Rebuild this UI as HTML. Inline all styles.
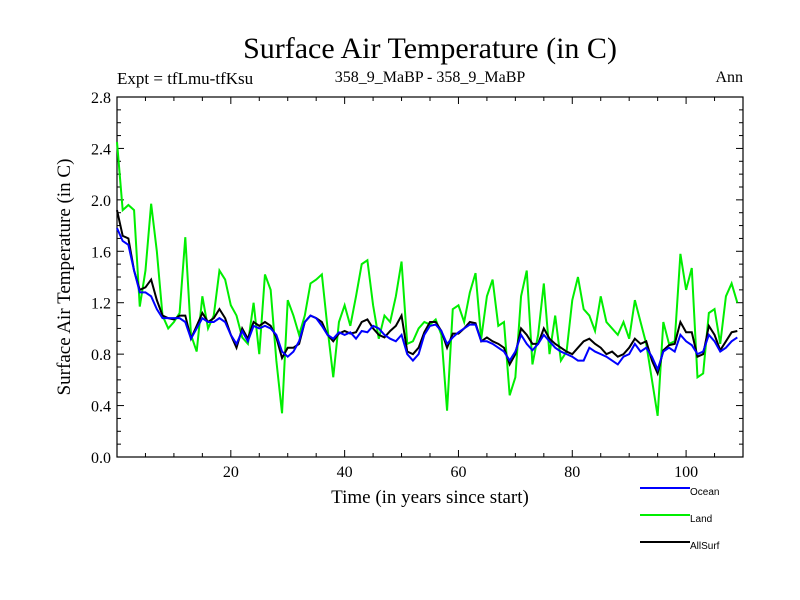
<!DOCTYPE html>
<html><head><meta charset="utf-8"><style>
body{margin:0;background:#fff;}
svg{display:block;font-family:"Liberation Serif",serif;}
</style></head><body>
<svg id="c" width="800" height="600">
<text x="430" y="58" font-size="30" text-anchor="middle">Surface Air Temperature (in C)</text>
<text x="117" y="84" font-size="17">Expt = tfLmu-tfKsu</text>
<text x="430" y="82" font-size="16" text-anchor="middle">358_9_MaBP - 358_9_MaBP</text>
<text x="743" y="82" font-size="16" text-anchor="end">Ann</text>
<text x="430" y="503" font-size="19" text-anchor="middle">Time (in years since start)</text>
<text transform="translate(70,277) rotate(-90)" font-size="19" text-anchor="middle">Surface Air Temperature (in C)</text>
<g id="ax"></g><g id="series"></g><g id="legend"></g>
</svg>
<script>
const yTicks=[0.0,0.4,0.8,1.2,1.6,2.0,2.4,2.8];
const xTicks=[20,40,60,80,100];
const seriesNames=["Ocean","Land","AllSurf"];
const land=[2.45,1.92,1.96,1.92,1.17,1.45,1.97,1.60,1.10,1.00,1.05,1.12,1.71,0.95,0.82,1.25,1.00,1.10,1.45,1.38,1.18,1.10,0.93,0.88,1.20,0.80,1.42,1.30,0.75,0.34,1.22,1.10,0.95,1.10,1.35,1.38,1.42,1.00,0.62,1.05,1.18,1.02,1.25,1.50,1.53,1.18,0.92,1.10,1.05,1.25,1.52,0.88,0.90,1.00,1.05,1.03,1.07,0.95,0.36,1.15,1.18,1.05,1.28,1.43,0.92,1.25,1.38,1.02,1.05,0.48,0.62,1.25,1.45,0.72,0.95,1.35,0.80,1.10,0.75,0.82,1.22,1.40,1.15,1.10,0.98,1.25,1.05,1.00,0.95,1.05,0.92,1.22,1.05,0.88,0.60,0.32,1.05,0.88,0.90,1.58,1.30,1.47,0.62,0.65,1.12,1.15,0.88,1.25,1.35,1.20];
const ocean=[1.78,1.68,1.65,1.45,1.28,1.28,1.25,1.15,1.08,1.08,1.08,1.08,1.05,0.92,1.00,1.08,1.05,1.05,1.08,1.05,0.95,0.88,0.98,0.90,1.02,1.00,1.02,1.00,0.95,0.82,0.78,0.82,0.90,1.05,1.10,1.08,1.02,0.95,0.92,0.97,0.95,0.97,0.92,0.98,0.97,1.02,1.00,0.95,0.92,0.90,0.95,0.80,0.75,0.80,0.95,1.02,1.03,0.98,0.88,0.93,0.97,1.00,1.03,1.03,0.90,0.90,0.88,0.85,0.82,0.75,0.82,0.95,0.88,0.83,0.88,0.95,0.90,0.85,0.82,0.80,0.78,0.75,0.75,0.85,0.82,0.80,0.78,0.75,0.72,0.78,0.80,0.88,0.82,0.85,0.78,0.68,0.82,0.85,0.82,0.95,0.90,0.87,0.80,0.82,0.95,0.90,0.82,0.85,0.90,0.93];
const allsurf=[1.92,1.72,1.70,1.45,1.30,1.32,1.38,1.22,1.10,1.08,1.07,1.10,1.10,0.92,1.02,1.12,1.05,1.08,1.15,1.08,0.95,0.85,1.00,0.92,1.05,1.02,1.05,1.02,0.93,0.77,0.85,0.85,0.88,1.05,1.10,1.08,1.05,0.95,0.90,0.96,0.98,0.96,0.97,1.05,1.07,1.00,0.95,0.93,0.98,1.02,1.10,0.82,0.80,0.85,0.97,1.05,1.05,0.98,0.85,0.96,0.96,1.00,1.05,1.04,0.90,0.93,0.90,0.88,0.85,0.72,0.80,1.00,0.95,0.88,0.88,1.00,0.92,0.88,0.85,0.82,0.80,0.85,0.90,0.92,0.88,0.85,0.80,0.82,0.78,0.80,0.85,0.92,0.88,0.90,0.75,0.65,0.83,0.87,0.88,1.05,0.97,0.97,0.78,0.80,1.02,0.95,0.83,0.90,0.97,0.98];
const NS="http://www.w3.org/2000/svg";
const L=117,R=743,T=97,B=457,X0=0,X1=110,Y0=0,Y1=2.8;
const xs=v=>L+(v-X0)/(X1-X0)*(R-L);
const ys=v=>B-(v-Y0)/(Y1-Y0)*(B-T);
function mk(tag,attrs,parent){const e=document.createElementNS(NS,tag);for(const k in attrs)e.setAttribute(k,attrs[k]);parent.appendChild(e);return e;}
const ax=document.getElementById('ax');
const frame=mk('rect',{x:L,y:T,width:R-L,height:B-T,fill:'none',stroke:'#000','stroke-width':1.2},ax);


for(let v=0;v<=2.8001;v+=0.1){const y=ys(v);const maj=Math.abs(v/0.4-Math.round(v/0.4))<1e-6;const len=maj?7:4;
 mk('line',{x1:L,x2:L+len,y1:y,y2:y,stroke:'#000'},ax);mk('line',{x1:R,x2:R-len,y1:y,y2:y,stroke:'#000'},ax);}
yTicks.forEach(v=>{const t=mk('text',{x:L-6,y:ys(v)+6,'font-size':16,'text-anchor':'end'},ax);t.textContent=v.toFixed(1);
 
 });
for(let v=5;v<=110;v+=5){const x=xs(v);const len=v%20==0?7:4;
 mk('line',{x1:x,x2:x,y1:B,y2:B-len,stroke:'#000'},ax);mk('line',{x1:x,x2:x,y1:T,y2:T+len,stroke:'#000'},ax);}
xTicks.forEach(v=>{const t=mk('text',{x:xs(v),y:B+20,'font-size':16,'text-anchor':'middle'},ax);t.textContent=v;
 
 });
const sg=document.getElementById('series');
const defs=[[land,'#00ee00','land-line'],[allsurf,'#000','allsurf-line'],[ocean,'#0000ff','ocean-line']];
defs.forEach(([d,c,n])=>{const p=d.map((v,i)=>xs(i)+','+ys(v)).join(' ');
 const pl=mk('polyline',{points:p,fill:'none',stroke:c,'stroke-width':2},sg);
 
 });
const lg=document.getElementById('legend');
const lc=['#0000ff','#00ee00','#000'];const ly=[492,519,546];
seriesNames.forEach((n,i)=>{const g=mk('g',{},lg);
 
 
 mk('line',{x1:640,x2:690,y1:ly[i]-4,y2:ly[i]-4,stroke:lc[i],'stroke-width':2},g);
 const t=mk('text',{x:690,y:ly[i]+3,'font-size':10,'font-family':'Liberation Sans, sans-serif'},g);t.textContent=n;});
</script>
</body></html>
